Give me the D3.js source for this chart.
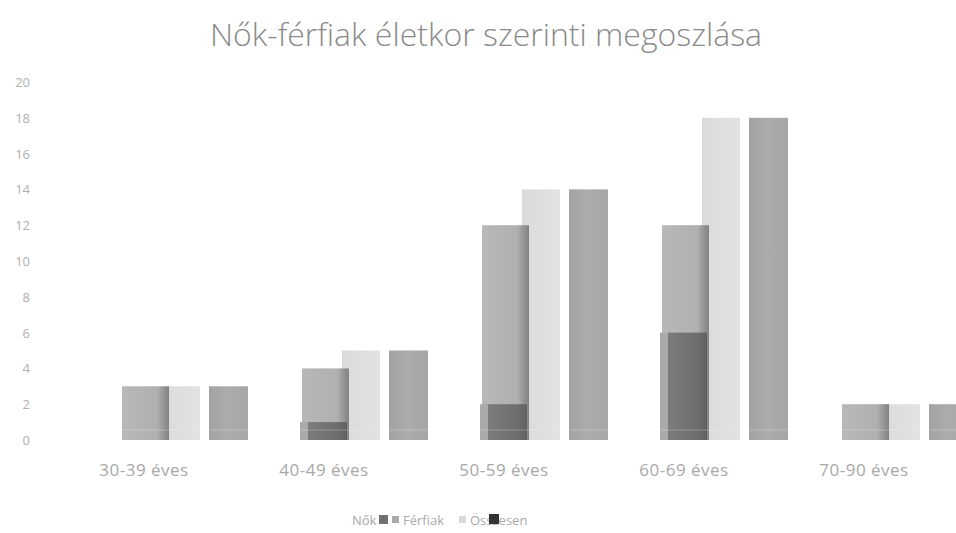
<!DOCTYPE html>
<html><head><meta charset="utf-8">
<script src="https://cdn.jsdelivr.net/npm/d3@7/dist/d3.min.js"></script>
<style>body{margin:0;background:#fff}svg{display:block}text{font-family:"Open Sans",Lato,sans-serif}</style>
</head><body>
<svg id="c" width="956" height="533"></svg>
<script>
const title = "Nők-férfiak életkor szerinti megoszlása";
const categories = ["30-39 éves","40-49 éves","50-59 éves","60-69 éves","70-90 éves"];
const seriesNames = ["Nők","Férfiak","Összesen"];
const nok = [0,1,2,6,0];
const ferfiak = [3,4,12,12,2];
const osszesen = [3,5,14,18,2];
const yTicks = [0,2,4,6,8,10,12,14,16,18,20];

const svg = d3.select("#c");
const y = d3.scaleLinear().domain([0,20]).range([440,82]);
const x = d3.scaleBand().domain(categories).range([100,1000]).padding(0);
const bw = x.bandwidth();
const off = f => bw*f/180;

const defs = svg.append("defs");
function grad(id, stops){
  const g = defs.append("linearGradient").attr("id",id).attr("x1","0").attr("x2","1").attr("y1","0").attr("y2","0");
  stops.forEach(s=>g.append("stop").attr("offset",s[0]).attr("stop-color",s[1]));
}
grad("gF",[[0,"#b8b8b8"],[0.75,"#b0b0b0"],[0.9,"#929292"],[1,"#828282"]]);
grad("gN",[[0,"#7c7c7c"],[0.8,"#6c6c6c"],[1,"#606060"]]);
grad("gT",[[0,"#a2a2a2"],[0.5,"#acacac"],[1,"#a6a6a6"]]);
grad("gL",[[0,"#dadada"],[1,"#e3e3e3"]]);

svg.append("text").attr("x",486).attr("y",46).attr("text-anchor","middle")
  .attr("font-size",32).attr("font-weight",300).attr("fill","#8a8a8a").text(title);

svg.append("g").selectAll("text").data(yTicks).join("text")
  .attr("x",30).attr("y",d=>y(d)+5).attr("text-anchor","end")
  .attr("font-size",13).attr("fill","#b0b0b0").text(d=>d);

const g = svg.append("g");
function bars(data, x0, x1, fill, cls){
  g.selectAll("rect."+cls).data(data.map((v,i)=>({v,c:categories[i]}))).join("rect")
    .attr("class",cls)
    .attr("x",d=>x(d.c)+off(x0)).attr("width",off(x1)-off(x0))
    .attr("y",d=>y(d.v)).attr("height",d=>y(0)-y(d.v))
    .attr("fill",fill);
}
bars(osszesen, 62, 100, "url(#gL)", "lt");
bars(osszesen, 109, 148, "url(#gT)", "tot");
bars(ferfiak, 22, 69, "url(#gF)", "fer");
bars(nok, 20, 28, "#aaaaaa", "nokside");
bars(nok, 28, 67, "url(#gN)", "nok");

g.selectAll("rect.fl").data(categories).join("rect").attr("class","fl")
  .attr("x",d=>x(d)+off(20)).attr("width",off(128)).attr("y",429).attr("height",2)
  .attr("fill","#ffffff").attr("opacity",0.12);

svg.append("g").selectAll("text").data(categories).join("text")
  .attr("x",d=>x(d)+off(44)).attr("y",476).attr("text-anchor","middle")
  .attr("font-size",17).attr("letter-spacing",0.5).attr("fill","#a8a8a8").text(d=>d);

const legCols = ["#707070","#aaaaaa","#d8d8d8"];
const lg = svg.append("g").attr("font-size",13).attr("fill","#a8a8a8");
lg.append("text").attr("x",352).attr("y",525).text(seriesNames[0]);
lg.append("rect").attr("x",379).attr("y",515).attr("width",9).attr("height",9).attr("fill",legCols[0]);
lg.append("rect").attr("x",392).attr("y",516).attr("width",7).attr("height",7).attr("fill",legCols[1]);
lg.append("text").attr("x",403).attr("y",525).text(seriesNames[1]);
lg.append("rect").attr("x",459).attr("y",516).attr("width",7).attr("height",7).attr("fill",legCols[2]);
lg.append("text").attr("x",470).attr("y",525).text(seriesNames[2]);
lg.append("rect").attr("x",489).attr("y",514).attr("width",10).attr("height",10).attr("fill","#333");
</script>
</body></html>
